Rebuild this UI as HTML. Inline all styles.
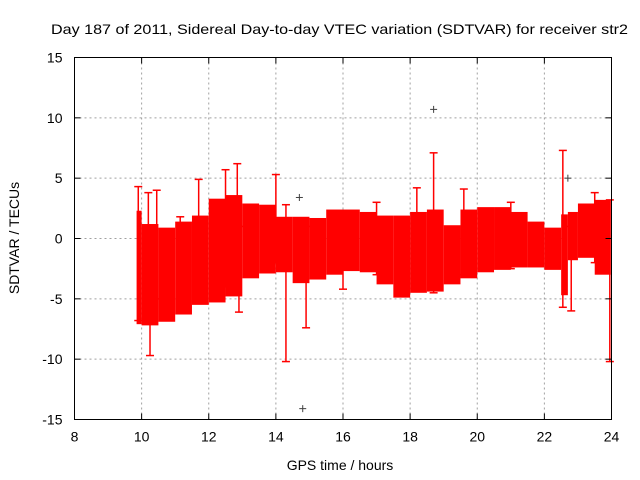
<!DOCTYPE html>
<html><head><meta charset="utf-8"><style>
html,body{margin:0;padding:0;background:#fff}
svg{display:block;font-family:"Liberation Sans",Arial,sans-serif}
</style></head><body>
<svg id="chart" width="640" height="480" viewBox="0 0 640 480" xmlns="http://www.w3.org/2000/svg">
<rect width="640" height="480" fill="#fff"/>
<text x="51" y="34" font-size="14" textLength="577" lengthAdjust="spacingAndGlyphs">Day 187 of 2011, Sidereal Day-to-day VTEC variation (SDTVAR) for receiver str2</text>
<g id="grid"></g>
<g id="band"></g>
<g id="outliers"></g>
<rect x="74.5" y="57.5" width="537" height="362" fill="none" stroke="#000" stroke-width="1"/>
<g id="axes"></g>
<text x="340" y="470" font-size="14" text-anchor="middle">GPS time / hours</text>
<text transform="translate(19,238) rotate(-90)" font-size="14" text-anchor="middle">SDTVAR / TECUs</text>
</svg>
<script>
const xTicks = [8,10,12,14,16,18,20,22,24];
const yTicks = [-15,-10,-5,0,5,10,15];
const binStart = [9.85,10.0,10.5,11.0,11.5,12.0,12.5,13.0,13.5,14.0,14.5,15.0,15.5,16.0,16.5,17.0,17.5,18.0,18.5,19.0,19.5,20.0,20.5,21.0,21.5,22.0,22.5,22.7,23.0,23.5];
const binEnd   = [10.0,10.5,11.0,11.5,12.0,12.5,13.0,13.5,14.0,14.5,15.0,15.5,16.0,16.5,17.0,17.5,18.0,18.5,19.0,19.5,20.0,20.5,21.0,21.5,22.0,22.5,22.7,23.0,23.5,23.98];
const binHigh  = [2.3,1.2,0.9,1.4,1.9,3.3,3.6,2.9,2.8,1.8,1.8,1.7,2.4,2.4,2.2,1.9,1.9,2.2,2.4,1.1,2.4,2.6,2.6,2.2,1.4,0.9,2.0,2.2,2.9,3.2];
const binLow   = [-7.1,-7.2,-6.9,-6.3,-5.5,-5.3,-4.8,-3.3,-2.9,-2.8,-3.7,-3.4,-3.0,-2.7,-2.8,-3.8,-4.9,-4.5,-4.4,-3.8,-3.3,-2.8,-2.6,-2.4,-2.4,-2.6,-4.7,-1.8,-1.6,-3.0];
const spikeT    = [9.9,10.2,10.25,10.45,11.15,12.5,12.85,12.9,14.0,14.3,14.9,16.0,18.2,18.7,19.6,22.55,22.8,23.5,23.95,11.7,17.0,21.0];
const spikeHigh = [4.3,3.8,1.0,4.0,1.8,5.7,6.2,1.0,5.3,2.8,1.0,0.5,4.2,7.1,4.1,7.3,1.0,3.8,3.2,4.9,3.0,3.0];
const spikeLow  = [-6.8,-6.0,-9.7,-5.0,-5.0,-4.0,-4.0,-6.1,-2.0,-10.2,-7.4,-4.2,-4.0,-4.5,-3.0,-5.7,-6.0,-2.0,-10.2,1.0,-3.0,-2.5];
const outT = [14.7,14.8,18.7,22.7];
const outV = [3.4,-14.1,10.7,5.0];

const NS='http://www.w3.org/2000/svg';
const X0=74.5,X1=611.5,Y0=419.5,Y1=57.5;
function sx(t){return X0+(t-8)/16*(X1-X0);}
function sy(v){return Y0-(v+15)/30*(Y0-Y1);}
function mk(tag,attrs,parent){const e=document.createElementNS(NS,tag);for(const k in attrs)e.setAttribute(k,attrs[k]);parent.appendChild(e);return e;}
const grid=document.getElementById('grid'),axes=document.getElementById('axes'),band=document.getElementById('band'),outl=document.getElementById('outliers');
xTicks.forEach(t=>{
  const x=sx(t);
  if(t>8&&t<24){const g=mk('line',{x1:x,x2:x,y1:Y1,y2:Y0,stroke:'#a0a0a0','stroke-dasharray':'2,3'},grid);
  
  }
  mk('line',{x1:x,x2:x,y1:Y0,y2:Y0-6,stroke:'#000'},axes);
  mk('line',{x1:x,x2:x,y1:Y1,y2:Y1+6,stroke:'#000'},axes);
  const l=mk('text',{x:x,y:Y0+22,'font-size':14,'text-anchor':'middle'},axes);l.textContent=t;
  
  
});
yTicks.forEach(v=>{
  const y=sy(v);
  if(v>-15&&v<15){const g=mk('line',{x1:X0,x2:X1,y1:y,y2:y,stroke:'#a0a0a0','stroke-dasharray':'2,3'},grid);
  
  }
  mk('line',{x1:X0,x2:X0+6,y1:y,y2:y,stroke:'#000'},axes);
  mk('line',{x1:X1,x2:X1-6,y1:y,y2:y,stroke:'#000'},axes);
  const l=mk('text',{x:X0-12,y:y+5,'font-size':14,'text-anchor':'end'},axes);l.textContent=v;
  
  
});
binStart.forEach((s,i)=>{
  const r=mk('rect',{x:sx(s),y:sy(binHigh[i]),width:Math.max(1,sx(binEnd[i])-sx(s)),height:sy(binLow[i])-sy(binHigh[i]),fill:'#ff0000'},band);
  
  
});
spikeT.forEach((t,i)=>{
  const x=sx(t),yh=sy(spikeHigh[i]),yl=sy(spikeLow[i]);
  const g=mk('g',{stroke:'#ff0000','stroke-width':1.5},band);
  
  
  mk('line',{x1:x,x2:x,y1:yh,y2:yl},g);
  mk('line',{x1:x-4,x2:x+4,y1:yh,y2:yh},g);
  mk('line',{x1:x-4,x2:x+4,y1:yl,y2:yl},g);
});
outT.forEach((t,i)=>{
  const x=sx(t),y=sy(outV[i]);
  const g=mk('g',{stroke:'#404040','stroke-width':1},outl);
  
  
  mk('line',{x1:x-3.5,x2:x+3.5,y1:y,y2:y},g);
  mk('line',{x1:x,x2:x,y1:y-3.5,y2:y+3.5},g);
});
</script>
</body></html>
